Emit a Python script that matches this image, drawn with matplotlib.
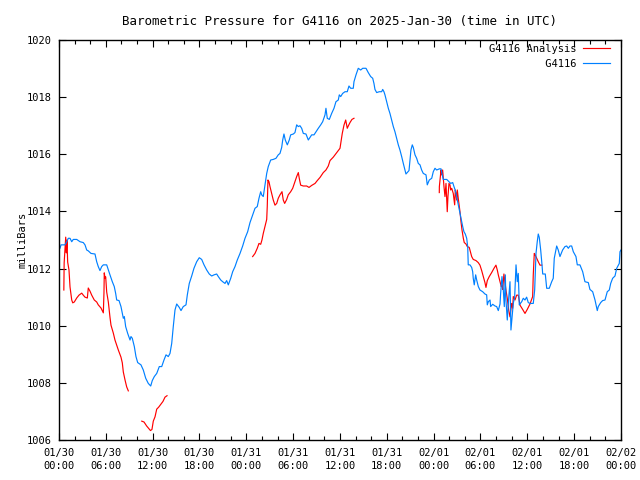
import matplotlib
matplotlib.use("Agg")
import matplotlib.pyplot as plt
import matplotlib.dates as mdates
import numpy as np
import pandas as pd

start = pd.Timestamp("2025-01-30 00:00")

# G4116 station readings: hours after start, millibars
station_hours = [
    0.0, 0.13, 0.26, 0.77, 0.99, 1.19, 1.41, 1.63, 1.83, 2.27, 2.69, 3.11, 3.33, 3.55, 3.75,
    4.10, 4.61, 4.83, 5.03, 5.25, 5.47, 5.68, 6.11, 6.32, 6.53, 6.83, 7.08, 7.26, 7.39, 7.69,
    7.94, 8.24, 8.37, 8.54, 8.80, 9.10, 9.22, 9.39, 9.65, 9.86, 10.08, 10.50, 10.80, 11.11,
    11.44, 11.75, 11.95, 12.21, 12.52, 12.85, 13.16, 13.45, 13.71, 14.00, 14.22, 14.44, 14.64,
    14.86, 15.08, 15.41, 15.63, 15.92, 16.27, 16.44, 16.69, 17.00, 17.29, 17.64, 17.97, 18.28,
    18.58, 18.92, 19.25, 19.56, 19.86, 20.20, 20.41, 20.72, 20.97, 21.27, 21.48, 21.69, 22.00,
    22.25, 22.55, 22.84, 23.19, 23.53, 23.83, 24.17, 24.47, 24.81, 25.11, 25.40, 25.62, 25.84,
    25.97, 26.17, 26.39, 26.61, 26.81, 27.12, 27.45, 27.80, 28.09, 28.31, 28.53, 28.66, 28.82,
    28.99, 29.25, 29.50, 29.68, 30.02, 30.23, 30.45, 30.66, 30.87, 31.09, 31.30, 31.64, 31.94,
    32.15, 32.37, 32.67, 32.93, 33.22, 33.53, 33.78, 34.08, 34.20, 34.37, 34.63, 34.93, 35.23,
    35.48, 35.78, 35.91, 36.09, 36.34, 36.64, 36.93, 37.15, 37.37, 37.70, 37.79, 38.05, 38.34,
    38.65, 38.91, 39.33, 39.62, 39.93, 40.19, 40.35, 40.48, 40.70, 41.03, 41.34, 41.47, 41.63,
    41.76, 41.98, 42.19, 42.40, 42.62, 42.83, 43.04, 43.26, 43.47, 43.68, 43.90, 44.11, 44.33,
    44.45, 44.62, 44.84, 44.97, 45.09, 45.26, 45.39, 45.61, 45.82, 46.03, 46.25, 46.46, 46.67,
    47.02, 47.18, 47.44, 47.75, 47.95, 48.17, 48.39, 48.72, 48.94, 49.23, 49.67, 50.18, 50.44,
    50.60, 50.73, 50.86, 51.03, 51.21, 51.37, 51.54, 51.72, 51.88, 52.05, 52.23, 52.36, 52.43,
    52.65, 52.87, 53.00, 53.07, 53.20, 53.38, 53.51, 53.72, 53.93, 54.28, 54.57, 54.79, 54.87,
    55.00, 55.22, 55.30, 55.56, 55.86, 56.07, 56.28, 56.50, 56.58, 56.75, 56.92, 57.05, 57.18,
    57.26, 57.43, 57.61, 57.78, 57.90, 58.03, 58.20, 58.38, 58.55, 58.71, 58.84, 58.97, 59.28,
    59.48, 59.70, 59.91, 60.12, 60.34, 60.76, 60.94, 61.11, 61.27, 61.40, 61.53, 61.71, 61.88,
    61.97, 62.30, 62.48, 62.81, 63.12, 63.32, 63.45, 63.76, 63.96, 64.18, 64.52, 64.82, 65.04,
    65.25, 65.46, 65.68, 65.89, 66.23, 66.40, 66.74, 67.09, 67.38, 67.81, 68.02, 68.37, 68.67,
    68.96, 69.09, 69.40, 69.65, 69.95, 70.24, 70.50, 70.68, 70.93, 71.23, 71.45, 71.78, 71.87,
    72.0,
]
station_mb = [
    1012.70, 1012.71, 1012.83, 1012.83, 1012.94, 1013.06, 1013.06, 1012.94, 1013.02, 1013.02,
    1012.94, 1012.91, 1012.83, 1012.65, 1012.62, 1012.53, 1012.51, 1012.24, 1012.07, 1011.93,
    1012.07, 1012.13, 1012.13, 1011.95, 1011.78, 1011.54, 1011.37, 1011.13, 1010.90, 1010.88,
    1010.67, 1010.26, 1010.32, 1009.97, 1009.73, 1009.50, 1009.62, 1009.56, 1009.27, 1008.92,
    1008.71, 1008.63, 1008.45, 1008.16, 1007.98, 1007.89, 1008.08, 1008.22, 1008.33, 1008.57,
    1008.57, 1008.80, 1008.98, 1008.92, 1009.03, 1009.38, 1009.97, 1010.55, 1010.76, 1010.64,
    1010.53, 1010.67, 1010.73, 1011.08, 1011.48, 1011.74, 1012.01, 1012.24, 1012.38, 1012.32,
    1012.13, 1011.95, 1011.81, 1011.74, 1011.78, 1011.81, 1011.72, 1011.60, 1011.54, 1011.48,
    1011.58, 1011.43, 1011.66, 1011.89, 1012.07, 1012.30, 1012.53, 1012.79, 1013.06, 1013.29,
    1013.61, 1013.88, 1014.11, 1014.17, 1014.46, 1014.69, 1014.58, 1014.52, 1014.93, 1015.33,
    1015.57, 1015.80, 1015.82, 1015.86, 1015.98, 1016.03, 1016.24, 1016.50, 1016.71, 1016.50,
    1016.33, 1016.50, 1016.68, 1016.71, 1016.76, 1017.03, 1016.97, 1017.00, 1016.91, 1016.73,
    1016.71, 1016.50, 1016.59, 1016.68, 1016.68, 1016.79, 1016.91, 1017.03, 1017.14, 1017.38,
    1017.61, 1017.26, 1017.22, 1017.43, 1017.61, 1017.84, 1017.90, 1018.08, 1018.02, 1018.13,
    1018.19, 1018.19, 1018.39, 1018.31, 1018.31, 1018.54, 1018.78, 1019.01, 1018.95, 1019.01,
    1019.01, 1018.86, 1018.72, 1018.66, 1018.48, 1018.27, 1018.16, 1018.19, 1018.19, 1018.27,
    1018.19, 1018.08, 1017.84, 1017.61, 1017.43, 1017.20, 1016.97, 1016.79, 1016.56, 1016.33,
    1016.15, 1015.92, 1015.68, 1015.45, 1015.31, 1015.36, 1015.43, 1015.80, 1016.15, 1016.33,
    1016.24, 1015.98, 1015.86, 1015.68, 1015.63, 1015.45, 1015.33, 1015.28, 1014.93, 1015.10,
    1015.16, 1015.39, 1015.51, 1015.45, 1015.49, 1015.49, 1015.12, 1015.12, 1014.98, 1015.01,
    1014.87, 1014.77, 1014.63, 1014.40, 1014.17, 1013.93, 1013.70, 1013.47, 1013.29, 1013.21,
    1013.06, 1012.77, 1012.13, 1012.13, 1012.04, 1011.89, 1011.66, 1011.43, 1011.78, 1011.60,
    1011.37, 1011.25, 1011.19, 1011.11, 1011.08, 1010.73, 1010.84, 1010.90, 1010.67, 1010.75,
    1010.69, 1010.67, 1010.53, 1010.76, 1011.13, 1011.72, 1011.25, 1010.67, 1011.78, 1010.90,
    1010.20, 1010.96, 1011.54, 1009.85, 1010.26, 1010.78, 1011.02, 1012.13, 1011.54, 1011.83,
    1010.73, 1010.84, 1010.96, 1010.90, 1011.00, 1010.81, 1010.78, 1010.78, 1011.25, 1012.53,
    1012.94, 1013.21, 1013.09, 1012.65, 1012.13, 1011.81, 1011.81, 1011.31, 1011.31, 1011.54,
    1011.66, 1012.36, 1012.79, 1012.65, 1012.42, 1012.65, 1012.77, 1012.79, 1012.71, 1012.79,
    1012.79, 1012.59, 1012.42, 1012.13, 1012.13, 1011.89, 1011.54, 1011.51, 1011.27, 1011.19,
    1010.90, 1010.53, 1010.67, 1010.81, 1010.88, 1010.90, 1011.19, 1011.25, 1011.48, 1011.66,
    1011.74, 1012.01, 1012.18, 1012.59, 1012.65,
]

# G4116 Analysis: four separate runs with gaps between them
analysis_hours_1 = [0.62, 0.66, 0.86, 0.94, 1.02, 1.11, 1.28, 1.41, 1.63, 1.76, 1.96, 2.27, 2.56,
                    2.91, 3.11, 3.33, 3.63, 3.75, 3.97, 4.19, 4.52, 4.83, 5.03, 5.38, 5.68, 5.76,
                    5.80, 5.89, 5.98, 6.11, 6.32, 6.53, 6.66, 6.96, 7.17, 7.39, 7.60, 7.94, 8.11,
                    8.24, 8.46, 8.67, 8.88]
analysis_mb_1 = [1011.25, 1012.20, 1013.10, 1012.55, 1013.00, 1012.23, 1011.95, 1011.36, 1010.90,
                 1010.80, 1010.83, 1010.97, 1011.07, 1011.14, 1011.07, 1011.00, 1010.97, 1011.32,
                 1011.21, 1011.07, 1010.90, 1010.83, 1010.73, 1010.62, 1010.45, 1011.14, 1011.85,
                 1011.67, 1011.71, 1011.18, 1010.83, 1010.30, 1010.02, 1009.74, 1009.50, 1009.32,
                 1009.15, 1008.90, 1008.70, 1008.38, 1008.10, 1007.86, 1007.72]

analysis_hours_2 = [10.60, 10.89, 11.23, 11.72, 11.91, 12.08, 12.30, 12.52, 12.77, 13.07, 13.32,
                    13.58, 13.84]
analysis_mb_2 = [1006.66, 1006.63, 1006.49, 1006.33, 1006.37, 1006.66, 1006.81, 1007.08, 1007.15,
                 1007.26, 1007.35, 1007.50, 1007.55]

analysis_hours_3 = [24.81, 25.11, 25.40, 25.62, 25.84, 26.00, 26.17, 26.39, 26.61, 26.68, 26.77,
                    26.90, 27.03, 27.25, 27.45, 27.67, 27.89, 28.09, 28.31, 28.57, 28.73, 28.91,
                    29.17, 29.37, 29.68, 29.94, 30.23, 30.45, 30.66, 30.78, 30.96, 31.30, 31.73,
                    32.03, 32.37, 32.80, 33.09, 33.44, 33.86, 34.20, 34.50, 34.72, 35.14, 35.58,
                    36.00, 36.13, 36.29, 36.51, 36.73, 36.85, 36.93, 37.06, 37.28, 37.53, 37.79]
analysis_mb_3 = [1012.42, 1012.53, 1012.71, 1012.88, 1012.85, 1013.00, 1013.23, 1013.47, 1013.72,
                 1014.17, 1015.10, 1015.04, 1014.87, 1014.63, 1014.40, 1014.22, 1014.28, 1014.46,
                 1014.58, 1014.69, 1014.40, 1014.28, 1014.42, 1014.58, 1014.69, 1014.81, 1015.04,
                 1015.22, 1015.36, 1015.16, 1014.92, 1014.89, 1014.89, 1014.84, 1014.91, 1014.98,
                 1015.08, 1015.19, 1015.36, 1015.45, 1015.59, 1015.78, 1015.90, 1016.06, 1016.21,
                 1016.44, 1016.73, 1017.02, 1017.20, 1017.03, 1016.91, 1016.99, 1017.11, 1017.22,
                 1017.26]

analysis_hours_4 = [48.72, 48.73, 48.94, 49.02, 49.15, 49.32, 49.45, 49.58, 49.67, 49.74, 49.83,
                    49.96, 50.09, 50.18, 50.31, 50.51, 50.69, 50.77, 50.86, 50.95, 51.03, 51.15,
                    51.37, 51.50, 51.63, 51.80, 51.92, 52.14, 52.31, 52.56, 52.87, 53.07, 53.42,
                    53.71, 53.93, 54.15, 54.36, 54.57, 54.70, 54.87, 55.12, 55.43, 55.73, 55.98,
                    56.15, 56.28, 56.50, 56.66, 56.75, 56.84, 57.00, 57.13, 57.26, 57.43, 57.61,
                    57.78, 57.86, 57.99, 58.12, 58.20, 58.42, 58.63, 58.84, 59.06, 59.40, 59.70,
                    59.99, 60.34, 60.68, 60.76, 60.89, 61.02, 61.20, 61.40, 61.62, 61.84]
analysis_mb_4 = [1014.66, 1014.87, 1015.45, 1015.28, 1015.45, 1014.87, 1014.52, 1014.98, 1014.40,
                 1013.99, 1014.52, 1014.98, 1014.93, 1014.75, 1014.81, 1014.63, 1014.23, 1014.75,
                 1014.63, 1014.40, 1014.75, 1014.46, 1013.99, 1013.64, 1013.35, 1013.06, 1012.91,
                 1012.86, 1012.77, 1012.74, 1012.42, 1012.32, 1012.28, 1012.21, 1012.12, 1011.93,
                 1011.72, 1011.51, 1011.34, 1011.58, 1011.72, 1011.86, 1012.01, 1012.12, 1011.95,
                 1011.78, 1011.54, 1011.37, 1011.42, 1011.27, 1011.81, 1011.54, 1011.25, 1010.96,
                 1010.55, 1010.31, 1010.49, 1010.78, 1010.61, 1011.02, 1010.90, 1011.07, 1011.07,
                 1010.72, 1010.57, 1010.43, 1010.57, 1010.76, 1011.02, 1011.78, 1012.53, 1012.47,
                 1012.36, 1012.24, 1012.12, 1012.12]

# join the analysis runs, NaN breaks the line between them
an_hours, an_mb = [], []
for hh, mm in [(analysis_hours_1, analysis_mb_1), (analysis_hours_2, analysis_mb_2),
               (analysis_hours_3, analysis_mb_3), (analysis_hours_4, analysis_mb_4)]:
    an_hours += hh + [hh[-1] + 0.01]
    an_mb += mm + [np.nan]

an_time = start + pd.to_timedelta(an_hours, unit="h")
st_time = start + pd.to_timedelta(station_hours, unit="h")

plt.rcParams["font.family"] = ["DejaVu Sans Mono"]
plt.rcParams["font.size"] = 7.5

fig = plt.figure(figsize=(6.4, 4.8), dpi=100)
ax = fig.add_axes([59 / 640, 40 / 480, 562 / 640, 400 / 480])

ax.plot(an_time, an_mb, color="#ff0000", lw=0.85, label="G4116 Analysis")
ax.plot(st_time, station_mb, color="#0080ff", lw=0.85, label="         G4116")

ax.set_xlim(start, start + pd.Timedelta(hours=72))
ax.set_ylim(1006, 1020)
ax.set_yticks(np.arange(1006, 1021, 2))

ax.xaxis.set_major_locator(mdates.HourLocator(byhour=range(0, 24, 6)))
ax.xaxis.set_minor_locator(mdates.HourLocator(byhour=range(0, 24, 2)))
ax.xaxis.set_major_formatter(mdates.DateFormatter("%m/%d\n%H:%M"))

ax.tick_params(which="both", direction="in", top=True, right=True, color="black")
ax.tick_params(which="major", length=5, width=0.8)
ax.tick_params(which="minor", length=3, width=0.8)
ax.tick_params(axis="y", pad=5)
ax.tick_params(axis="x", pad=5.5)
for lbl in ax.get_xticklabels():
    lbl.set_linespacing(1.45)
for sp in ax.spines.values():
    sp.set_linewidth(1.0)

ax.set_ylabel("milliBars")
ax.yaxis.set_label_coords(-31 / 562, 0.5)
ax.set_title("Barometric Pressure for G4116 on 2025-Jan-30 (time in UTC)", pad=11)

ax.legend(loc="upper right", bbox_to_anchor=(1 - 11 / 562, 1 - 4 / 400), frameon=False,
          markerfirst=False, handlelength=2.6, handletextpad=0.6, borderpad=0,
          borderaxespad=0, labelspacing=0.45)

fig.savefig("out.png", dpi=100)
